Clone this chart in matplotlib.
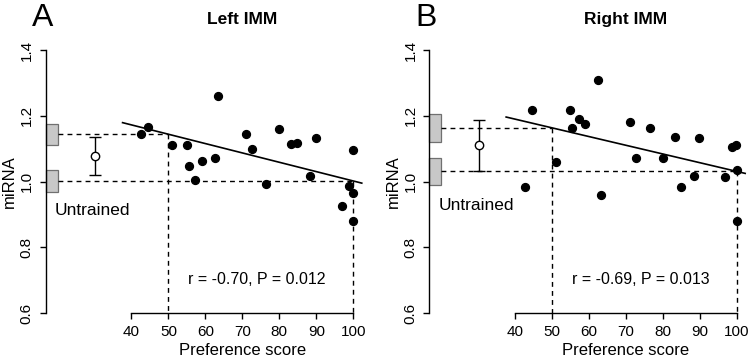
import matplotlib
matplotlib.use("Agg")
import matplotlib.pyplot as plt
import matplotlib.transforms as mtransforms
from matplotlib.patches import Rectangle
import numpy as np

plt.rcParams['font.family'] = ['Liberation Sans', 'DejaVu Sans']

# preference scores (same birds in both panels)
pref = [42.7, 44.6, 51.0, 54.9, 55.5, 57.2, 59.0, 62.5, 63.4, 71.1, 72.7,
        76.5, 80.0, 83.2, 84.9, 88.4, 89.9, 96.9, 98.8, 99.9, 100.0, 100.0]

# miRNA levels
left_mirna = [1.145, 1.165, 1.112, 1.112, 1.049, 1.005, 1.063, 1.073, 1.260, 1.145, 1.100,
              0.993, 1.160, 1.115, 1.117, 1.018, 1.132, 0.927, 0.988, 0.965, 0.881, 1.096]
right_mirna = [0.983, 1.217, 1.060, 1.218, 1.162, 1.190, 1.176, 1.309, 0.958, 1.180, 1.072,
               1.162, 1.072, 1.136, 0.983, 1.017, 1.134, 1.015, 1.106, 1.110, 0.881, 1.036]

# regression fits (intercept, slope)
left_fit = (1.286, -0.00284)
right_fit = (1.2958, -0.002647)

# untrained group: mean and error
left_untrained = (1.078, 0.058)
right_untrained = (1.110, 0.078)

# half-heights of grey boxes at predicted values
left_box_half = 0.032
right_box_half = 0.042

left_stats = "r = -0.70, P = 0.012"
right_stats = "r = -0.69, P = 0.013"

xticks = [40, 50, 60, 70, 80, 90, 100]
yticks = [0.6, 0.8, 1.0, 1.2, 1.4]
ref_scores = [50, 100]


def draw_panel(ax, y, fit, untrained, box_half, stats, title, untrained_y):
    ax.set_xlim(16.8, 103.2)
    ax.set_ylim(0.6, 1.4)
    for s in ['top', 'right']:
        ax.spines[s].set_visible(False)
    ax.spines['left'].set_bounds(0.6, 1.4)
    ax.spines['bottom'].set_bounds(40, 100)
    ax.spines['left'].set_linewidth(1.0)
    ax.spines['bottom'].set_linewidth(1.0)
    ax.set_xticks(xticks)
    ax.set_yticks(yticks)
    ax.set_yticklabels(["%.1f" % t for t in yticks], rotation=90, va='center')
    ax.tick_params(axis='both', direction='out', length=4.5, width=1.0,
                   labelsize=11, pad=4)
    ax.patch.set_visible(False)

    b0, b1 = fit
    preds = [b0 + b1 * s for s in ref_scores]

    # grey boxes and dashed guides
    for s, p in zip(ref_scores, preds):
        ax.add_patch(Rectangle((16.8, p - box_half), 3.3, 2 * box_half,
                               facecolor='#c8c8c8', edgecolor='#707070', lw=0.9,
                               clip_on=False, zorder=2))
        ax.plot([20.1, s], [p, p], color='black', lw=1.0, dashes=(3.5, 3))
        ax.plot([s, s], [p, 0.6], color='black', lw=1.0, dashes=(3.5, 3))

    # untrained mean +/- error
    ax.errorbar([30.2], [untrained[0]], yerr=[untrained[1]], fmt='o', mfc='white',
                mec='black', color='black', ms=6, mew=1.0, elinewidth=1.0,
                capsize=4, capthick=1.0, zorder=3)

    # regression line
    lx = np.array([37.6, 102.3])
    ax.plot(lx, b0 + b1 * lx, color='black', lw=1.2, zorder=3)

    ax.scatter(pref, y, s=32, color='black', zorder=4, clip_on=False)

    ax.text(19.3, untrained_y, "Untrained", fontsize=12.5, va='baseline', ha='left')
    ax.text(74, 0.69, stats, fontsize=11.5, ha='center', va='baseline')

    bt = mtransforms.blended_transform_factory(ax.transData, ax.transAxes)
    ax.text(70, 1.098, title, fontsize=12.5, fontweight='bold', ha='center',
            va='baseline', transform=bt)
    ax.text(70, -0.158, "Preference score", fontsize=12, ha='center',
            va='baseline', transform=bt)
    ax.text(-0.112, 0.5, "miRNA", fontsize=12, rotation=90, ha='center',
            va='center', transform=ax.transAxes)


fig = plt.figure(figsize=(7.5, 3.58), dpi=100)
ax1 = fig.add_axes([0.0609, 0.1249, 0.4259, 0.7355])
ax2 = fig.add_axes([0.5724, 0.1249, 0.4256, 0.7355])

draw_panel(ax1, left_mirna, left_fit, left_untrained, left_box_half,
           left_stats, "Left IMM", 0.899)
draw_panel(ax2, right_mirna, right_fit, right_untrained, right_box_half,
           right_stats, "Right IMM", 0.914)

fig.text(32.3 / 750, 1 - 26 / 358, "A", fontsize=23, va='baseline', ha='left')
fig.text(415.5 / 750, 1 - 26 / 358, "B", fontsize=23, va='baseline', ha='left')

fig.savefig("out.png", dpi=100)
